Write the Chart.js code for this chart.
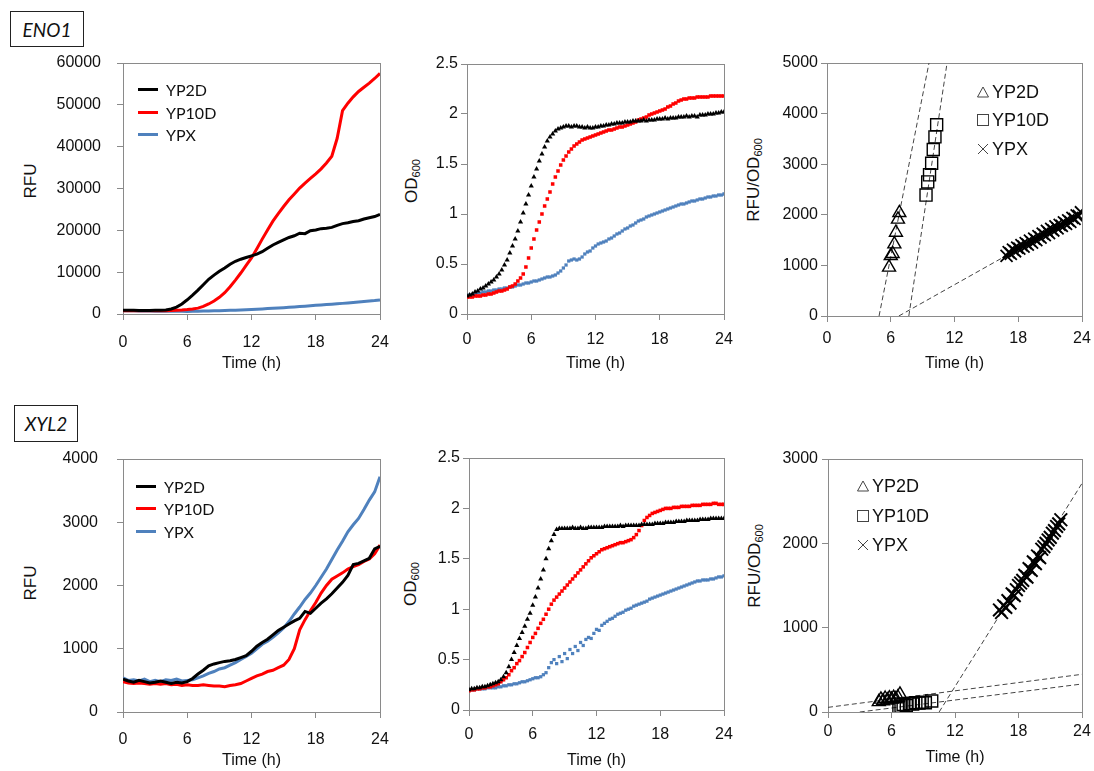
<!DOCTYPE html>
<html>
<head>
<meta charset="utf-8">
<script src="https://cdn.jsdelivr.net/npm/chart.js@4.4.1/dist/chart.umd.min.js"></script>
<style>
  html, body { margin: 0; padding: 0; background: #fff; overflow: hidden; }
  body { width: 1094px; height: 771px; position: relative; font-family: "Liberation Sans", Arial, sans-serif; color: #111; }
  canvas { position: absolute; }
  .gene { position: absolute; box-sizing: border-box; border: 1.5px solid #222; font-family: Lato, sans-serif;
          font-style: italic; font-size: 19px; display: flex; align-items: center; justify-content: center; }
  .ytitle { position: absolute; transform: translate(-50%, -50%) rotate(-90deg); white-space: nowrap; font-size: 17px; }
  .ytitle sub { font-size: 11px; vertical-align: -3px; }
  .leg { position: absolute; height: 20px; display: flex; align-items: center; white-space: nowrap; }
  .leg .ln { display: inline-block; width: 20px; height: 3px; margin-right: 8px; }
  .leg.l1 { font-family: Lato, sans-serif; font-size: 16px; }
  .leg.l2 { font-size: 18px; }
  .leg svg { margin-right: 3px; }
</style>
</head>
<body>
<div class="gene" style="left:10px;top:11px;width:74px;height:36px;">ENO1</div>
<div class="gene" style="left:14px;top:405px;width:64px;height:37px;">XYL2</div>

<div class="ytitle" style="left:31px;top:181px;">RFU</div>
<div class="ytitle" style="left:412px;top:181px;">OD<sub>600</sub></div>
<div class="ytitle" style="left:754px;top:180px;">RFU/OD<sub>600</sub></div>
<div class="ytitle" style="left:31px;top:583px;">RFU</div>
<div class="ytitle" style="left:411px;top:584px;">OD<sub>600</sub></div>
<div class="ytitle" style="left:755px;top:566px;">RFU/OD<sub>600</sub></div>

<script>
// time grids (h)
const T_HALF = Array.from({ length: 49 }, (_, i) => i / 2);
const T_QTR = Array.from({ length: 97 }, (_, i) => i / 4);

// ---- ENO1: RFU (every 0.5 h) ----
const ENO1_RFU_YP2D = [900,870,880,850,860,840,870,900,980,1200,1650,2400,
  3400,4500,5700,7000,8300,9300,10200,11000,11900,12600,13100,13500,
  13900,14300,14900,15700,16500,17100,17700,18300,18700,19300,19200,19900,
  20100,20400,20500,20700,21200,21600,21800,22100,22300,22700,23000,23300,
  23800];
const ENO1_RFU_YP10D = [800,780,760,760,770,760,770,780,800,830,880,950,
  1050,1200,1400,1800,2400,3100,4000,5100,6500,8100,9800,11600,
  13400,15600,17900,20100,22200,24000,25700,27300,28700,30100,31300,32400,
  33500,34700,36100,37700,42000,48600,50400,51900,53200,54200,55200,56300,
  57500];
const ENO1_RFU_YPX = [800,780,750,720,700,690,680,670,660,650,640,630,
  620,640,660,690,720,750,790,830,870,920,970,1020,
  1080,1150,1220,1290,1360,1440,1520,1600,1690,1780,1880,1970,
  2070,2160,2250,2340,2440,2540,2640,2740,2850,2960,3080,3200,
  3350];

// ---- ENO1: OD600 (every 0.25 h) ----
const ENO1_OD_YP2D = [.18,.19,.20,.22, .23,.25,.26,.28, .30,.32,.34,.37, .40,.44,.49,.54,
  .61,.68,.75,.83, .92,1.01,1.10,1.19, 1.28,1.37,1.45,1.53, 1.60,1.67,1.73,1.77,
  1.80,1.83,1.85,1.86, 1.87,1.88,1.88,1.87, 1.88,1.88,1.87,1.87, 1.86,1.87,1.86,1.86,
  1.87,1.87,1.88,1.88, 1.89,1.89,1.90,1.90, 1.91,1.91,1.91,1.92, 1.92,1.92,1.93,1.93,
  1.93,1.93,1.94,1.93, 1.94,1.94,1.94,1.95, 1.95,1.95,1.96,1.95, 1.96,1.96,1.96,1.97,
  1.97,1.97,1.98,1.97, 1.98,1.98,1.97,1.99, 1.99,1.99,2.00,2.00, 2.00,2.01,2.01,2.02,
  2.02];
const ENO1_OD_YP10D = [.17,.17,.17,.18, .18,.18,.19,.19, .20,.20,.21,.22, .23,.23,.24,.25,
  .27,.28,.30,.33, .36,.40,.47,.56, .66,.75,.84,.92, 1.00,1.08,1.15,1.22,
  1.30,1.37,1.43,1.49, 1.54,1.58,1.62,1.65, 1.68,1.70,1.72,1.74, 1.75,1.76,1.77,1.78,
  1.79,1.80,1.81,1.82, 1.83,1.84,1.84,1.85, 1.86,1.87,1.87,1.88, 1.89,1.90,1.91,1.92,
  1.94,1.95,1.96,1.97, 1.99,2.00,2.01,2.02, 2.03,2.04,2.05,2.07, 2.08,2.10,2.11,2.13,
  2.14,2.15,2.15,2.16, 2.16,2.16,2.17,2.17, 2.17,2.17,2.17,2.18, 2.18,2.18,2.18,2.18,
  2.18];
const ENO1_OD_YPX = [.18,.19,.19,.20, .21,.21,.22,.22, .23,.23,.24,.24, .25,.25,.26,.26,
  .27,.27,.28,.29, .29,.30,.31,.31, .32,.33,.33,.34, .35,.36,.37,.37,
  .38,.39,.41,.43, .46,.49,.53,.54, .55,.54,.55,.57, .60,.62,.63,.66,
  .68,.70,.71,.72, .73,.75,.76,.78, .80,.81,.83,.85, .86,.88,.89,.91,
  .93,.94,.95,.97, .98,.99,1.00,1.01, 1.02,1.03,1.04,1.05, 1.06,1.07,1.08,1.09,
  1.10,1.10,1.11,1.12, 1.13,1.13,1.14,1.15, 1.15,1.16,1.17,1.17, 1.18,1.18,1.19,1.19,
  1.20];

// ---- ENO1: RFU/OD600 with linear fits ----
const ENO1_RATIO_YP2D_T = [5.84,6.0,6.18,6.34,6.49,6.68,6.81];
const ENO1_RATIO_YP2D = [960,1190,1230,1420,1650,1910,2040];
const ENO1_RATIO_YP10D_T = [9.32,9.48,9.65,9.85,10.0,10.16,10.32];
const ENO1_RATIO_YP10D = [2390,2650,2790,3020,3290,3540,3780];
const ENO1_RATIO_YPX_T = [16.9,17.1,17.3,17.5,17.7,17.9,18.1,18.3,18.5,18.7,18.9,19.1,
  19.3,19.5,19.7,19.9,20.1,20.3,20.5,20.7,20.9,21.1,21.3,21.5,
  21.7,21.9,22.1,22.3,22.5,22.7,22.9,23.1,23.3,23.5,23.7,23.9];
const ENO1_RATIO_YPX = [1190,1260,1230,1310,1280,1350,1330,1400,1370,1440,1410,1490,
  1450,1530,1500,1580,1550,1630,1600,1680,1640,1720,1690,1770,
  1730,1800,1780,1850,1820,1890,1860,1940,1920,1990,1980,2050];
const ENO1_FIT_YP2D = [[4.9, 0], [9.6, 5000]];
const ENO1_FIT_YP10D = [[7.7, 0], [11.3, 5000]];
const ENO1_FIT_YPX = [[6.76, 0], [24, 2035]];

// ---- XYL2: RFU (every 0.5 h) ----
const XYL2_RFU_YP2D = [520,490,470,500,480,460,470,490,470,450,470,460,
  480,530,600,660,730,760,780,800,810,830,860,890,
  960,1040,1100,1150,1220,1290,1340,1390,1440,1480,1590,1560,
  1640,1720,1790,1870,1960,2050,2160,2330,2350,2390,2430,2580,
  2620];
const XYL2_RFU_YP10D = [480,460,450,460,450,440,450,440,450,430,440,420,
  430,420,420,430,420,410,410,400,420,430,450,490,
  530,570,600,640,660,700,740,830,1000,1300,1460,1600,
  1730,1880,2000,2100,2150,2200,2260,2300,2330,2380,2420,2500,
  2640];
const XYL2_RFU_YPX = [540,500,510,490,520,480,500,480,510,500,520,490,
  500,510,540,570,610,640,680,700,740,780,830,880,
  930,1000,1070,1120,1180,1250,1330,1430,1550,1660,1780,1880,
  2000,2130,2260,2410,2560,2700,2850,2960,3060,3200,3350,3480,
  3720];

// ---- XYL2: OD600 (every 0.25 h) ----
const XYL2_OD_YP2D = [.20,.21,.21,.22, .22,.23,.23,.24, .25,.26,.27,.28, .30,.33,.37,.43,
  .50,.57,.64,.71, .77,.83,.90,.96, 1.04,1.12,1.21,1.30, 1.39,1.50,1.60,1.68,
  1.74,1.79,1.80,1.80, 1.80,1.80,1.80,1.81, 1.80,1.80,1.81,1.80, 1.80,1.81,1.81,1.81,
  1.81,1.81,1.81,1.82, 1.82,1.82,1.82,1.82, 1.82,1.83,1.82,1.83, 1.83,1.83,1.83,1.83,
  1.83,1.84,1.84,1.84, 1.84,1.84,1.85,1.85, 1.85,1.85,1.86,1.86, 1.86,1.86,1.87,1.87,
  1.87,1.87,1.88,1.88, 1.88,1.88,1.88,1.89, 1.89,1.89,1.89,1.90, 1.90,1.90,1.90,1.90,
  1.90];
const XYL2_OD_YP10D = [.19,.20,.20,.21, .21,.22,.22,.23, .23,.24,.25,.26, .28,.30,.32,.35,
  .39,.42,.46,.49, .53,.57,.62,.67, .72,.76,.81,.86, .90,.95,1.00,1.05,
  1.09,1.12,1.15,1.18, 1.21,1.24,1.27,1.30, 1.33,1.36,1.39,1.42, 1.45,1.48,1.51,1.53,
  1.55,1.57,1.59,1.60, 1.61,1.62,1.63,1.64, 1.65,1.66,1.66,1.67, 1.68,1.69,1.71,1.74,
  1.78,1.83,1.88,1.91, 1.93,1.95,1.96,1.97, 1.98,1.99,2.00,2.00, 2.00,2.01,2.01,2.01,
  2.02,2.02,2.02,2.02, 2.03,2.03,2.03,2.03, 2.04,2.04,2.04,2.04, 2.05,2.05,2.04,2.04,
  2.04];
const XYL2_OD_YPX = [.20,.20,.20,.21, .21,.21,.21,.22, .22,.22,.22,.23, .23,.24,.24,.25,
  .25,.26,.26,.27, .28,.28,.29,.30, .31,.32,.32,.33, .35,.37,.42,.47,
  .50,.46,.53,.48, .56,.51,.60,.56, .63,.59,.67,.64, .70,.72,.71,.76,
  .80,.79,.84,.86, .88,.90,.91,.93, .95,.96,.97,.99, 1.00,1.01,1.03,1.04,
  1.05,1.06,1.07,1.08, 1.10,1.11,1.12,1.13, 1.14,1.15,1.16,1.17, 1.18,1.19,1.20,1.21,
  1.22,1.23,1.24,1.25, 1.26,1.27,1.28,1.28, 1.29,1.29,1.29,1.30, 1.30,1.31,1.32,1.32,
  1.33];

// ---- XYL2: RFU/OD600 with linear fits ----
const XYL2_RATIO_YP2D_T = [4.8,5.0,5.2,5.4,5.6,5.8,6.0,6.2,6.4,6.6,6.8];
const XYL2_RATIO_YP2D = [120,150,130,160,140,165,150,170,155,175,210];
const XYL2_RATIO_YP10D_T = [6.7,6.9,7.1,7.4,7.7,8.0,8.3,8.6,8.9,9.2,9.8];
const XYL2_RATIO_YP10D = [50,70,90,75,100,95,110,105,115,110,130];
const XYL2_RATIO_YPX_T = [16.2,16.4,16.6,16.8,17.0,17.2,17.4,17.6,17.8,18.0,18.2,18.4,
  18.6,18.8,19.0,19.2,19.4,19.6,19.8,20.0,20.2,20.4,20.6,20.8,
  21.0,21.2,21.4,21.6,21.8,22.0];
const XYL2_RATIO_YPX = [1210,1180,1260,1240,1320,1290,1400,1380,1450,1500,1530,1560,
  1620,1600,1700,1680,1780,1760,1850,1830,1930,1960,2000,2040,
  2070,2120,2150,2200,2230,2280];
const XYL2_FIT_YP2D = [[0, 55], [24, 447]];
const XYL2_FIT_YP10D = [[3, 0], [24, 332]];
const XYL2_FIT_YPX = [[10.5, 0], [24, 2711]];

const BLACK = "#000000", RED = "#ff0000", BLUE = "#4f81bd";
const FONT = "'Liberation Sans', Arial, sans-serif";
// room kept round the plot so Chart.js never has to shrink it for tick labels
const PAD_T = 32, PAD_R = 28;

function pts(xs, ys) {
  return ys.map((y, i) => ({ x: xs[i], y: y }));
}

function line(xs, ys, color) {
  return { data: pts(xs, ys), showLine: true, borderColor: color, borderWidth: 3, pointRadius: 0, tension: 0 };
}

function dots(ys, color, style, r) {
  return { data: pts(T_QTR, ys), showLine: false, pointStyle: style, pointRadius: r,
    backgroundColor: color, borderColor: color, borderWidth: 0 };
}

function marks(xs, ys, style, r, bw) {
  return { data: pts(xs, ys), showLine: false, pointStyle: style, pointRadius: r,
    backgroundColor: "rgba(0,0,0,0)", borderColor: BLACK, borderWidth: bw || 1.4 };
}

function fit(ends) {
  return { data: ends.map(e => ({ x: e[0], y: e[1] })), showLine: true, borderColor: "#444",
    borderWidth: 1, borderDash: [5, 3], pointRadius: 0 };
}

// frame round the plot area
const boxPlugin = {
  id: "box",
  beforeDatasetsDraw(chart) {
    const { ctx, chartArea: a } = chart;
    ctx.save();
    ctx.strokeStyle = "#8a8a8a";
    ctx.lineWidth = 1;
    ctx.strokeRect(Math.round(a.left) + 0.5, Math.round(a.top) + 0.5,
      Math.round(a.right - a.left), Math.round(a.bottom - a.top));
    ctx.restore();
  }
};

function makePanel(p) {
  const cv = document.createElement("canvas");
  const w = p.yw + (p.r - p.l) + PAD_R;
  const h = PAD_T + (p.b - p.t) + p.xh;
  cv.width = w;
  cv.height = h;
  cv.style.left = (p.l - p.yw) + "px";
  cv.style.top = (p.t - PAD_T) + "px";
  cv.style.width = w + "px";
  cv.style.height = h + "px";
  document.body.appendChild(cv);

  new Chart(cv, {
    type: "scatter",
    data: { datasets: p.datasets },
    options: {
      responsive: false,
      animation: false,
      devicePixelRatio: 1,
      layout: { padding: { top: PAD_T, right: PAD_R, left: 0, bottom: 0 } },
      plugins: { legend: { display: false }, tooltip: { enabled: false } },
      scales: {
        x: {
          type: "linear", min: 0, max: 24,
          afterFit: s => { s.height = p.xh; },
          ticks: { stepSize: 6, padding: p.xpad, color: "#111", font: { family: FONT, size: 16 },
            maxRotation: 0, autoSkip: false },
          grid: { drawOnChartArea: false, tickLength: 6, color: "#8a8a8a" },
          border: { color: "#8a8a8a" },
          title: { display: true, text: "Time (h)", color: "#111", font: { family: FONT, size: 16 },
            padding: { top: 0, bottom: p.tpad } }
        },
        y: {
          type: "linear", min: 0, max: p.ymax,
          afterFit: s => { s.width = p.yw; },
          ticks: { stepSize: p.ystep, padding: p.ypad, color: "#111", font: { family: FONT, size: 16 },
            callback: v => String(v) },
          grid: { drawOnChartArea: false, tickLength: 6, color: "#8a8a8a" },
          border: { color: "#8a8a8a" }
        }
      }
    },
    plugins: [boxPlugin]
  });
}

makePanel({ l: 123, r: 380, t: 63, b: 314, yw: 80, xh: 64, ypad: 16, xpad: 13, tpad: 5,
  ymax: 60000, ystep: 10000,
  datasets: [line(T_HALF, ENO1_RFU_YP2D, BLACK), line(T_HALF, ENO1_RFU_YP10D, RED), line(T_HALF, ENO1_RFU_YPX, BLUE)] });

makePanel({ l: 467, r: 724, t: 64, b: 314, yw: 45, xh: 64, ypad: 3, xpad: 10, tpad: 5,
  ymax: 2.5, ystep: 0.5,
  datasets: [dots(ENO1_OD_YP2D, BLACK, "triangle", 3), dots(ENO1_OD_YP10D, RED, "rect", 2.5), dots(ENO1_OD_YPX, BLUE, "rect", 2.3)] });

makePanel({ l: 827, r: 1082, t: 63, b: 316, yw: 50, xh: 62, ypad: 3, xpad: 7, tpad: 5,
  ymax: 5000, ystep: 1000,
  datasets: [marks(ENO1_RATIO_YP2D_T, ENO1_RATIO_YP2D, "triangle", 7.5),
    marks(ENO1_RATIO_YP10D_T, ENO1_RATIO_YP10D, "rect", 8.5),
    marks(ENO1_RATIO_YPX_T, ENO1_RATIO_YPX, "crossRot", 8.5, 1.8),
    fit(ENO1_FIT_YP2D), fit(ENO1_FIT_YP10D), fit(ENO1_FIT_YPX)] });

makePanel({ l: 123, r: 380, t: 459, b: 712, yw: 80, xh: 58, ypad: 19, xpad: 12, tpad: 0,
  ymax: 4000, ystep: 1000,
  datasets: [line(T_HALF, XYL2_RFU_YP2D, BLACK), line(T_HALF, XYL2_RFU_YP10D, RED), line(T_HALF, XYL2_RFU_YPX, BLUE)] });

makePanel({ l: 469, r: 724, t: 458, b: 710, yw: 45, xh: 60, ypad: 3, xpad: 9, tpad: 0,
  ymax: 2.5, ystep: 0.5,
  datasets: [dots(XYL2_OD_YP2D, BLACK, "triangle", 3), dots(XYL2_OD_YP10D, RED, "rect", 2.5), dots(XYL2_OD_YPX, BLUE, "rect", 2.3)] });

makePanel({ l: 828, r: 1082, t: 459, b: 712, yw: 50, xh: 58, ypad: 4, xpad: 4, tpad: 3,
  ymax: 3000, ystep: 1000,
  datasets: [marks(XYL2_RATIO_YP2D_T, XYL2_RATIO_YP2D, "triangle", 7.5),
    marks(XYL2_RATIO_YP10D_T, XYL2_RATIO_YP10D, "rect", 8.5),
    marks(XYL2_RATIO_YPX_T, XYL2_RATIO_YPX, "crossRot", 9, 2),
    fit(XYL2_FIT_YP2D), fit(XYL2_FIT_YP10D), fit(XYL2_FIT_YPX)] });

// legends (html)
const LEG_NAMES = ["YP2D", "YP10D", "YPX"];
const LEG_COLORS = [BLACK, RED, BLUE];
const LEG_ICONS = [
  '<svg width="12" height="12"><polygon points="6,1 11.5,11 0.5,11" fill="none" stroke="#444" stroke-width="1"/></svg>',
  '<svg width="12" height="12"><rect x="0.5" y="0.5" width="11" height="11" fill="none" stroke="#444" stroke-width="1"/></svg>',
  '<svg width="12" height="12"><path d="M1,1 L11,11 M11,1 L1,11" stroke="#444" stroke-width="1"/></svg>'
];

function lineLegend(x, rows) {
  rows.forEach((y, i) => {
    const d = document.createElement("div");
    d.className = "leg l1";
    d.style.left = x + "px";
    d.style.top = (y - 10) + "px";
    d.innerHTML = '<span class="ln" style="background:' + LEG_COLORS[i] + '"></span>' + LEG_NAMES[i];
    document.body.appendChild(d);
  });
}

function markLegend(x, rows) {
  rows.forEach((y, i) => {
    const d = document.createElement("div");
    d.className = "leg l2";
    d.style.left = x + "px";
    d.style.top = (y - 10) + "px";
    d.innerHTML = LEG_ICONS[i] + LEG_NAMES[i];
    document.body.appendChild(d);
  });
}

lineLegend(138, [89, 112, 134]);
lineLegend(136, [486, 508, 531]);
markLegend(977, [92, 120, 149]);
markLegend(857, [486, 516, 545]);
</script>
</body>
</html>
